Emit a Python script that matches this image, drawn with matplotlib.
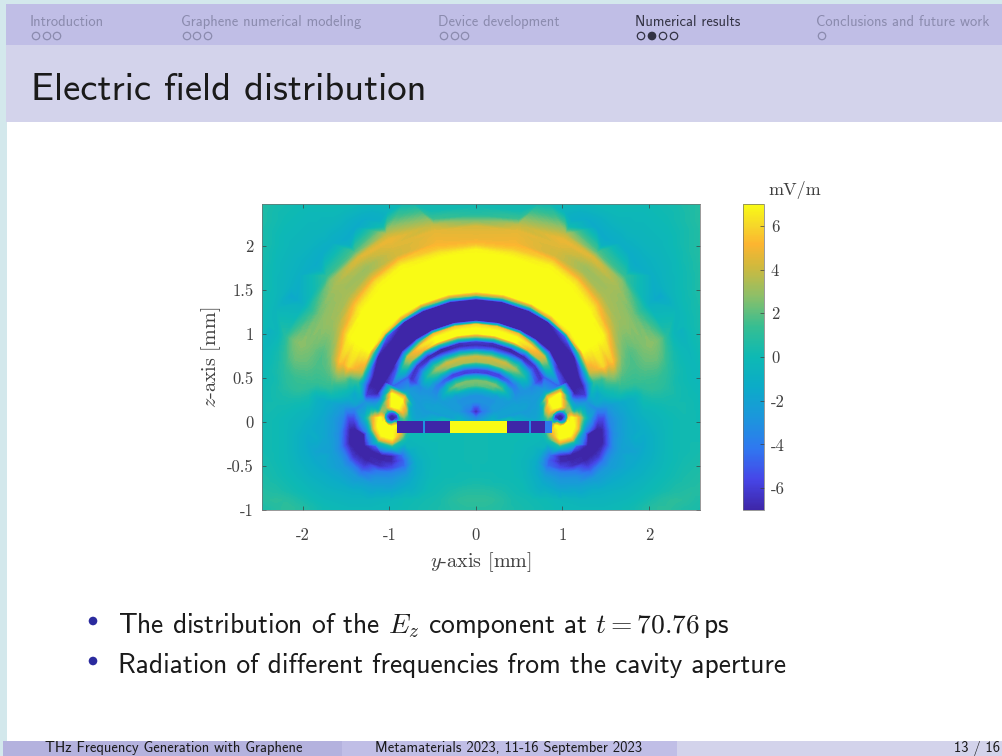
"""Slide "Electric field distribution": Ez map with its beamer frame."""

import matplotlib

matplotlib.use("Agg")

import matplotlib.pyplot as plt
import numpy as np
from matplotlib.cm import ScalarMappable
from matplotlib.colors import LinearSegmentedColormap, Normalize
from matplotlib.patches import Circle, Rectangle

plt.rcParams["mathtext.fontset"] = "cm"
plt.rcParams["font.family"] = ["cmss10", "DejaVu Sans"]
plt.rcParams["axes.unicode_minus"] = False
plt.rcParams["axes.formatter.use_mathtext"] = True

W, H = 1003, 756

# Ez in mV/m, read every 8 px of the picture: one row per line from the top of
# the map, from the outer edge (left) to the middle; the map is nearly symmetric.
field_left = [
    [.8, .6, .5, .3, .2, .1, 0, 0, 0, 0, 0, 0, 0, -.2, -.3, -.4, -.3, -.2, -.1, 0, 0, 0, 0, 0, 0, 0, 0, 0, 0],
    [.8, .6, .4, .2, .1, 0, -.1, -.2, -.2, -.2, -.2, -.3, -.5, -.7, -.9, -1, -.9, -.7, -.4, -.2, 0, 0, .1, .2, .2, .3, .3, .3, .3],
    [.8, .6, .4, .2, 0, -.1, -.2, -.3, -.3, -.4, -.4, -.6, -.9, -1.2, -1.4, -1.5, -1.2, -.6, .2, .8, 1.2, 1.4, 1.5, 1.6, 1.6, 1.6, 1.6, 1.7, 1.7],
    [.7, .5, .3, .1, -.1, -.2, -.3, -.4, -.4, -.5, -.7, -.9, -1.2, -1.5, -1.7, -1.7, -1.2, -.2, 1.8, 3.5, 4.3, 4.8, 4.8, 4.6, 4.5, 4.5, 4.4, 4.3, 4.2],
    [.7, .5, .3, 0, -.2, -.3, -.4, -.5, -.6, -.7, -1, -1.2, -1.6, -1.8, -1.6, -.9, .4, 2.6, 4.2, 4.8, 5, 5, 4.9, 4.8, 4.7, 4.5, 4.4, 4.2, 4.2],
    [.7, .5, .3, 0, -.2, -.4, -.5, -.6, -.8, -1, -1.2, -1.5, -1.8, -1.5, -.6, .8, 2.6, 4, 4.8, 4.9, 4.6, 4.5, 4.6, 4.8, 5, 5.2, 5.4, 5.5, 5.5],
    [.7, .5, .2, -.1, -.3, -.5, -.6, -.8, -1.1, -1.3, -1.5, -1.7, -1.2, -.2, 1.6, 3.2, 4.4, 4.2, 3.8, 3.6, 4, 4.6, 5.2, 6, 6.6, 7, 7, 7, 7],
    [.7, .4, .2, -.2, -.4, -.6, -.8, -1, -1.2, -1.5, -1.6, -1.2, -.1, 1.6, 4, 4.4, 3.4, 3, 3.6, 5.2, 6.6, 7, 7, 7, 7, 7, 7, 7, 7],
    [.6, .4, .1, -.2, -.5, -.7, -.9, -1.2, -1.5, -1.6, -1.1, .2, 2.4, 3.6, 3.6, 3, 3.4, 5, 6.8, 7, 7, 7, 7, 7, 7, 7, 7, 7, 7],
    [.6, .3, .1, -.3, -.5, -.8, -1.1, -1.4, -1.6, -1.3, -.3, 1, 2.8, 3.4, 3, 3, 4.4, 6.4, 7, 7, 7, 7, 7, 7, 7, 7, 7, 7, 7],
    [.6, .3, .1, -.3, -.6, -.9, -1.4, -1.7, -1.4, -.6, .8, 2.6, 3.2, 3.2, 3.4, 5, 6.6, 7, 7, 7, 7, 7, 7, 7, 7, 7, 7, 7, 7],
    [.6, .3, 0, -.3, -.7, -1.1, -1.6, -1.7, -1, .2, 1.8, 2.8, 3.2, 3.5, 5, 6.8, 7, 7, 7, 7, 7, 7, 7, 7, 7, 7, 6.8, 6, 5.5],
    [.5, .2, 0, -.4, -.8, -1.3, -1.7, -1.5, -.6, .9, 2.2, 3, 3.2, 3.6, 5.6, 7, 7, 7, 7, 7, 7, 7, 7, 0, -7, -7, -7, -7, -7],
    [.4, .2, -.1, -.5, -1, -1.5, -1.8, -1.2, 0, 1.4, 2.4, 3, 3.3, 4.6, 7, 7, 7, 7, 7, 7, 7, 0, -7, -7, -7, -7, -7, -7, -7],
    [.4, .1, -.2, -.6, -1.1, -1.6, -1.7, -.9, .5, 1.8, 2.6, 3.2, 4.2, 6, 7, 7, 7, 7, 7, 0, -7, -7, -7, -7, -7, -7, -7, -7, -7],
    [.4, .1, -.2, -.7, -1.2, -1.5, -1.4, -.5, .9, 2, 2.6, 3.3, 4.6, 6.4, 7, 7, 7, 7, -2, -7, -7, -7, -7, -7, -7, -6, -3, 1, 3],
    [.3, 0, -.3, -.7, -.9, -.1, 1.3, 2.3, 2, 1.6, 2, 3.6, 5.4, 7, 7, 7, 7, 1, -7, -7, -7, -7, -7, -6, -2, 5, 7, 7, 7],
    [.2, -.1, -.4, -.6, -.3, .8, 2, 2.6, 2.3, 1.4, 1.6, 3.8, 6.6, 7, 7, 7, 3, -7, -7, -7, -7, -5, 2, 6, 0, -6, -7, -6, -5],
    [.1, -.2, -.4, -.4, .3, 1.6, 2.6, 3, 2.4, 1.4, 1.4, 3.6, 6.8, 7, 7, 2, -7, -7, -7, -7, -2, 3, 5, 0, -5, -6, -5, -4, -3],
    [0, -.2, -.4, -.2, .8, 2, 3, 3.2, 2.4, 1.8, 3.6, 6, 7, 7, 7, -3, -7, -7, -7, -7, 2.5, 3.5, -1, -5, -5, -2, 1, 2.5, 3],
    [-.1, -.3, -.3, 0, 1, 2, 2.8, 2.8, 2.2, 1.6, 4, 6, 7, 7, 4, -7, -7, -7, -7, -6, 1.5, 1, -3, -3, -.5, 1.5, 3, 4, 4],
    [-.2, -.3, -.2, .2, 1, 1.8, 2.2, 2.2, 1.8, 1.6, 2.6, 3.6, 4, 4, 3, -7, -7, -7, -7, -5, -5, -5, -1, 2, -1, -5, -6, -6, -6],
    [-.2, -.2, 0, .2, .8, 1.4, 1.6, 1.6, 1.4, 1, 2, 1.6, 1.2, -1, -6.5, -7, -7, -7, -3, -2.5, -5, -6, -4, -1, 1, 0, 1, 1, 1],
    [-.2, -.1, .1, .3, .7, 1, 1.2, 1, .8, .6, .6, .2, -.3, -1.5, -6.5, -7, -7, -6, 3, -1, -3.5, -4.5, -3, -1.5, 0, 2, 2.5, 2.5, 2.5],
    [-.1, 0, .1, .3, .4, .5, .5, .3, .2, .1, -.1, -.4, -.9, -1.8, -6, -7, -5, 3.5, 7, 4, -2.5, -2.5, -2.5, -3.5, -3, -1.5, -.5, -1, -1.5],
    [-.1, .1, .2, .2, .2, .1, 0, -.1, -.2, -.4, -.8, -1.1, -1.5, -2, -2.5, -2, -1, 3, 7, 5, -2, -2.5, -2.5, -2.5, -3, -3, -3, -3, -3.5],
    [0, .1, .2, .1, 0, -.2, -.4, -.6, -.8, -1, -1.2, -1.7, -2.3, -3, -4, 0, 6, 0, -6, 5, -2, 0, 3, -1, 0, -2, -3, -4, -7],
    [0, .1, .1, 0, -.2, -.4, -.6, -1, -1.3, -1.7, -2, -3.5, -6, -5, -1, 5, 7, 4, -5, -1, -1, 0, 1, -1, 0, -1, -1, -2, -3],
    [.1, .1, .1, 0, -.2, -.5, -.8, -1.2, -1.6, -2.1, -3, -5, -7, -7, -4, 2, 7, 7, 6, 0, 0, 0, 0, 0, 0, 0, 0, 0, 0],
    [.1, .1, .1, 0, -.2, -.6, -1, -1.4, -1.8, -2.3, -3.2, -5.5, -7, -7, -6, -1.5, 5, 7, 6, -.5, -.3, 0, 0, 0, 0, 0, 0, .1, .1],
    [.2, .2, .1, 0, -.2, -.6, -1, -1.5, -2, -2.5, -3.2, -5, -6.5, -7, -7, -6, -3, 1.5, 1.5, -.8, -.5, -.3, -.2, -.1, 0, 0, 0, .1, .1],
    [.3, .2, .1, 0, -.2, -.6, -1, -1.4, -1.9, -2.3, -3, -4, -5.5, -6.5, -7, -7, -6, -4.5, -3, -1.5, -.9, -.5, -.3, -.1, 0, 0, 0, .1, .1],
    [.4, .3, .2, 0, -.2, -.5, -.9, -1.2, -1.6, -2, -2.5, -3.2, -4.2, -5.5, -6.5, -7, -7, -6.5, -5, -2.5, -1.3, -.7, -.4, -.2, 0, 0, 0, .1, .1],
    [.5, .4, .3, .1, -.1, -.4, -.7, -1, -1.3, -1.6, -2, -2.5, -3.2, -4, -4.8, -5.2, -5, -4.4, -3.5, -2.2, -1.3, -.8, -.4, -.2, 0, 0, 0, 0, .1],
    [.6, .5, .4, .2, 0, -.2, -.5, -.8, -1, -1.2, -1.5, -1.9, -2.3, -2.7, -3, -3.2, -3, -2.6, -2.2, -1.5, -1, -.6, -.3, -.1, 0, 0, .1, .1, .1],
    [.7, .6, .5, .4, .2, 0, -.2, -.5, -.7, -.9, -1.1, -1.3, -1.5, -1.7, -1.9, -1.9, -1.8, -1.6, -1.3, -1, -.7, -.4, -.2, 0, .1, .2, .2, .3, .4],
    [.8, .8, .7, .6, .4, .2, 0, -.2, -.4, -.6, -.7, -.8, -.9, -1, -1.1, -1.1, -1, -.9, -.7, -.5, -.3, -.1, 0, .1, .3, .5, .7, .8, .8],
    [.5, .7, .9, 1, .9, .7, .4, .1, -.1, -.3, -.4, -.5, -.6, -.6, -.6, -.6, -.5, -.4, -.3, -.1, 0, .1, .2, .3, .5, .8, 1, 1.1, 1.1],
    [.4, .5, .6, .8, 1, 1, .8, .5, .2, 0, -.1, -.2, -.3, -.3, -.3, -.3, -.2, -.2, -.1, 0, .1, .2, .3, .4, .5, .7, .8, .9, .9],
]

# rings above the strip, read along rays from the middle of the aperture:
# one row per ray angle (degrees from the horizontal), one column per radius (px)
arc_angles = [15, 20, 25, 35, 45, 55, 65, 78, 90]
arc_radii = [24, 30, 36, 40, 44, 48, 52, 56, 60, 64,
             68, 72, 76, 80, 84, 88, 92, 96, 100, 104,
             108, 114, 120, 126, 130, 134, 140, 146]
arc_field = [
    [-2.5, -2.5, -2.5, -2.5, -2.5, -2.5, -2.5, -2.5, -2.5, -2.5,
     -2.5, -2.5, -1, 2, 4, 4, 2, -2, -5, -7, -7, -6, -1, -1.5, -.5, 0, .5, .8],
    [-2, -2, -2, -2, -2, -2, -2, -2.2, -2.5, -3,
     -4, -4.5, -3, -1, 0, -1, -4, -6, -7, -7, -7, -7, -3, 1, 1.2, 1.2, 2.5, 3],
    [-2, -2, -2, -2, -2, -2.2, -2.2, -2.3, -2.5, -3.5,
     -5, -5.5, -4, -2.5, -2, -3, -6.5, -7, -7, -7, -7, -7, -3, 4, 4.5, 5, 6, 5],
    [-2.5, -2.5, -2.5, -2.5, -2.5, -3, -3, -3, -3, -3,
     -3.5, -5, -6, -6.5, -5, -2, -1, -5, -7, -7, -7, -7, -7, 2, 7, 7, 7, 7],
    [-2.5, -2.5, -2.5, -2, -1, -2, -4, -4, -2.5, -.5,
     .5, -1, -4, -6, -6.5, -2, 3.5, 4, -2, -7, -7, -7, -7, -5, 6, 7, 7, 7],
    [-3, -3, -2.5, -.5, 1.5, -.5, -4.5, -5, -2, 1.5,
     3, 1, -2.5, -6.5, -7, -3, 5, 6, 1, -7, -7, -7, -7, -7, 4, 7, 7, 7],
    [-3, -3, -1.5, 1.5, 2.5, 0, -5.5, -6, -2, 3,
     4, 1, -4, -7, -7, 0, 7, 7, 5, -7, -7, -7, -7, -7, 2, 7, 7, 7],
    [-3, -3, -1, 2, 2.5, -.5, -6, -5.8, -1.5, 3.5,
     4, .7, -4.5, -7, -6.5, 1, 7, 7, 5.5, -7, -7, -7, -7, -7, 2.5, 7, 7, 7],
    [-3, -3, -1, 2, 2.5, -1, -6, -5.5, -1, 3.5,
     4, .5, -5, -7, -6, 2, 7, 7, 6, -7, -7, -7, -7, -7, 3, 7, 7, 7],
]

# the same rays further out, through the yellow and orange fronts
arc_outer_radii = [150, 155, 160, 165, 170, 175, 180, 186, 192, 198, 204, 210, 218, 226]
arc_outer_field = [
    [1.2, 1.3, 1.3, 1.3, 1.4, 1.4, 1.4, 1.4, 1.2, .9, .5, .2, -.1, -.3],
    [2.6, 2, 1.8, 1.7, 1.7, 1.9, 2.1, 2.2, 2.2, 1.8, 1, .3, -.2, -.4],
    [5.5, 3.8, 2.5, 2, 1.8, 2, 2.3, 2.6, 2.8, 2.6, 2, .8, -.4, -.8],
    [7, 6.8, 5.5, 4, 3.3, 3, 3, 2.8, 2.3, 1.4, .4, -.8, -1.5, -1.6],
    [7, 7, 7, 6.5, 5.5, 4.2, 3.4, 3.2, 3.2, 3.3, 2.8, 1.2, -.8, -1.4],
    [7, 7, 7, 7, 6.8, 6, 4.5, 3.2, 3, 3.6, 4.4, 2, -.8, -1.5],
    [7, 7, 7, 7, 7, 6.8, 5.8, 4.2, 4.2, 4.5, 4.8, 3.8, .2, -1.2],
    [7, 7, 7, 7, 7, 6.5, 5.5, 5, 4.8, 4.6, 3.8, 1.5, .2, 0],
    [7, 7, 7, 7, 7, 6.8, 5.5, 4.8, 4.6, 4.3, 2.5, .8, .1, 0],
]

# yellow lobes round the aperture edge, read along rays from that edge:
# angles counted from the inner side of the map, going up and round
lobe_angles = [0, 30, 60, 90, 120, 150, 180, 210, 240, 270, 300, 330]
lobe_radii = [3, 6, 9, 12, 16, 20, 24, 28, 32]
lobe_field = [
    [-7, -6, 1, 2, 0, -1.5, -2, -2, -2],
    [-7, -6, 3, 5, 4, -1, -2, -2.3, -2.5],
    [-7, -5, 5, 7, 7, 7, 5, -1, -2.5],
    [-7, -5, 4, 7, 7, 7, 7, 3, -5],
    [-7, -5, 1, 3, 2, -2, -5, -7, -7],
    [-7, -5, 2, 3, -1, -1.5, -2, -2.5, -3],
    [-7, -4, 6, 7, 6, 4, 1, -1.5, -3.5],
    [-7, -3, 7, 7, 7, 5.5, 1, -3.5, -7],
    [-7, 0, 7, 7, 7, 7, 5, 0, -5],
    [-7, 2, 7, 7, 7, 7, 5, .5, -3],
    [-7, 3, 7, 6, 5, 3, .5, -.5, -.5],
    [-7, -4, 0, 0, 0, 0, 0, 0, -.2],
]

# dark crescents under the lobes, along rays from the same edge
crescent_angles = [165, 180, 195, 210, 225, 240, 255, 270, 285, 300]
crescent_radii = [38, 44, 50, 56, 62, 70, 78]
crescent_field = [
    [-3.5, -3, -2.5, -2, -1.6, -1.2, -.8],
    [-5.5, -5.5, -3.5, -2.8, -2.2, -1.6, -1.2],
    [-7, -7, -5, -3.2, -2.5, -1.8, -1.3],
    [-7, -7, -7, -5, -3.2, -2.2, -1.6],
    [-7, -7, -7, -6, -4, -2.5, -1.8],
    [-7, -7, -7, -6, -4.5, -2.5, -1.8],
    [-7, -7, -6.5, -4, -3, -2.2, -1.5],
    [-7, -6.8, -5.5, -3.5, -2.8, -2, -1.4],
    [-4.5, -5, -4.5, -3, -2, -1.3, -.8],
    [-1.2, -1.3, -1.2, -1, -.8, -.4, 0],
]

# the cavity strip along y (mm) and the field on it
strip_edges = [-0.913, -0.61, -0.59, -0.30, 0.358, 0.61, 0.635, 0.80, 0.88]
strip_values = [-7, -3, -7, 7, -7, -3.5, -7, -4]

y_ticks = [-2, -1, 0, 1, 2]
z_ticks = [-1, -0.5, 0, 0.5, 1, 1.5, 2]
z_labels = ["-1", "-0.5", "0", "0.5", "1", "1.5", "2"]
cbar_ticks = [-6, -4, -2, 0, 2, 4, 6]

parula = ["#3E26A8", "#4646E8", "#2F78F0", "#1C96DC", "#0CABC8", "#0DB9B4",
          "#36BE92", "#8DBF68", "#D2B93C", "#FCB530", "#F6D62A", "#F9FB15"]
parula_pos = [0, .1, .2, .3, .4, .5, .6, .7, .8, .87, .93, 1]

nav_names = ["Introduction", "Graphene numerical modeling", "Device development",
             "Numerical results", "Conclusions and future work"]
nav_x = [30, 181, 438, 635, 816]
nav_dots = [[36, 47, 57], [187, 197, 208], [444, 455, 465],
            [641, 652, 663, 674], [822]]

BAND_DARK = "#B4B2DE"
BAND_MID = "#C0BEE6"
BAND_LIGHT = "#D3D3EB"
EDGE = "#D3E8EC"
GREY_NAV = "#8B8BAE"
AX_TEXT = "#404040"

PX_Y, PX_Z = 86.5, 88
CENTRE_X, CENTRE_Z = 476, 422
ARC_CENTRE = (476, 425)
LOBE_CENTRE = (392, 418)
LOBE_REACH = 34
# levels kept off the round values of the tables: a level equal to a flat value
# leaves a stray line in the filled contours
LEVELS = np.linspace(-7.05, 7.05, 114)


def px_axes(fig, x0, y0, x1, y1, **kwargs):
    """Axes placed from picture pixels, y counted from the top."""
    return fig.add_axes(
        [x0 / W, 1 - y1 / H, (x1 - x0) / W, (y1 - y0) / H], **kwargs
    )


def draw_frame(fig):
    """Beamer bands, navigation, title, bullets and footer."""
    ax = fig.add_axes([0, 0, 1, 1], zorder=0)
    ax.set_xlim(0, W)
    ax.set_ylim(H, 0)
    ax.axis("off")

    ax.add_patch(Rectangle((0, 0), W, H, color=EDGE, lw=0))
    ax.add_patch(Rectangle((7, 122), W, 619, color="white", lw=0))
    ax.add_patch(Rectangle((6, 4), W, 41, color=BAND_MID, lw=0))
    ax.add_patch(Rectangle((6, 45), W, 77, color=BAND_LIGHT, lw=0))
    ax.add_patch(Rectangle((3, 741), 339, 15, color=BAND_DARK, lw=0))
    ax.add_patch(Rectangle((342, 741), 335, 15, color=BAND_MID, lw=0))
    ax.add_patch(Rectangle((677, 741), 326, 15, color=BAND_LIGHT, lw=0))

    for i, name in enumerate(nav_names):
        active = name == "Numerical results"
        color = "#333344" if active else GREY_NAV
        ax.text(nav_x[i], 22, name, fontsize=10.5, color=color, va="center",
                fontweight="bold" if active else "normal")
        for j, x in enumerate(nav_dots[i]):
            filled = active and j == 1
            ax.add_patch(Circle((x, 36), 3.7, lw=0.9, edgecolor=color,
                                facecolor=color if filled else "none"))

    ax.text(31, 90, "Electric field distribution", fontsize=27.8, color="#1A1A1A",
            va="center")

    for y, line in [(625, r"The distribution of the $E_z$ component at $t = 70.76\,$ps"),
                    (665, "Radiation of different frequencies from the cavity aperture")]:
        ax.add_patch(Circle((93, y - 4), 4.3, color="#2B2B9E", lw=0))
        ax.text(118, y, line, fontsize=19.8, color="#1A1A1A", va="center")

    ax.text(45, 748, "THz Frequency Generation with Graphene", fontsize=10.5,
            color="#1A1A1A", va="center")
    ax.text(375, 748, "Metamaterials 2023, 11-16 September 2023", fontsize=10.5,
            color="#1A1A1A", va="center")
    ax.text(1000, 748, "13 / 16", fontsize=10.5, color="#1A1A1A", va="center", ha="right")


def ray_points(centre, angles, radii):
    """Picture pixels of a table read along rays, angle 0 pointing left, 90 up."""
    theta, radius = np.meshgrid(np.radians(angles), radii, indexing="ij")
    return centre[0] - radius * np.cos(theta), centre[1] - radius * np.sin(theta)


def lobe_offsets(px, py):
    """Offsets in px from the nearer aperture edge, x counted towards the middle."""
    return 476 - np.abs(px - 476) - LOBE_CENTRE[0], LOBE_CENTRE[1] - py


def collect_field():
    """Gather the tables in one point cloud, keeping the finest one per place."""
    left = np.array(field_left, dtype=float)
    grid = np.hstack([left, left[:, -2::-1]])
    grid = np.vstack([grid, grid[-1:]])
    half = left.shape[1] - 1
    gx, gy = np.meshgrid(476 + 8 * np.arange(-half, half + 1), 204 + 8 * np.arange(grid.shape[0]))

    radius = np.hypot(gx - ARC_CENTRE[0], gy - ARC_CENTRE[1])
    angle = np.degrees(np.arctan2(ARC_CENTRE[1] - gy, np.abs(gx - ARC_CENTRE[0])))
    in_arcs = (radius >= 20) & (radius <= 230) & (angle >= 13)
    ox, oz = lobe_offsets(gx, gy)
    in_lobe = np.hypot(ox, oz) <= LOBE_REACH + 3
    sweep = np.degrees(np.arctan2(oz, ox)) % 360
    in_crescent = (np.hypot(ox, oz) <= 82) & (sweep >= 160) & (sweep <= 305)
    keep = ~in_arcs & ~in_lobe & ~in_crescent

    arc_full = [*arc_angles, *[180 - a for a in arc_angles[-2::-1]]]
    arc_rows = np.hstack([np.array(arc_field, dtype=float), np.array(arc_outer_field, dtype=float)])
    arc_table = np.vstack([arc_rows, arc_rows[-2::-1]])
    ax_, ay_ = ray_points(ARC_CENTRE, arc_full, arc_radii + arc_outer_radii)
    aox, aoz = lobe_offsets(ax_, ay_)
    arc_keep = np.hypot(aox, aoz) > LOBE_REACH

    # lobe and crescent angles start on the inner side, hence 180 - angle
    lx, ly = ray_points(LOBE_CENTRE, 180 - np.array(lobe_angles), lobe_radii)
    lobe_table = np.array(lobe_field, dtype=float)
    cx, cy = ray_points(LOBE_CENTRE, 180 - np.array(crescent_angles), crescent_radii)
    crescent_table = np.array(crescent_field, dtype=float)

    xs = [gx[keep], ax_[arc_keep], lx, 2 * 476 - lx, cx, 2 * 476 - cx]
    ys = [gy[keep], ay_[arc_keep], ly, ly, cy, cy]
    vs = [grid[keep], arc_table[arc_keep], lobe_table, lobe_table, crescent_table, crescent_table]
    return (np.concatenate([a.ravel() for a in xs]),
            np.concatenate([a.ravel() for a in ys]),
            np.concatenate([a.ravel() for a in vs]))


def main():
    fig = plt.figure(figsize=(W / 100, H / 100), dpi=100)
    draw_frame(fig)

    cmap = LinearSegmentedColormap.from_list("parula", list(zip(parula_pos, parula)), N=256)
    norm = Normalize(-7, 7)

    # 86.5 px/mm along y and 88 px/mm along z
    ax = px_axes(fig, 262, 204, 700, 510, zorder=2)
    px, py, values = collect_field()
    filled = ax.tricontourf((px - CENTRE_X) / PX_Y, (CENTRE_Z - py) / PX_Z, values,
                            levels=LEVELS, cmap=cmap, norm=norm, extend="both", zorder=1)
    filled.set_edgecolor("face")
    filled.set_linewidth(0.3)
    ax.pcolormesh(strip_edges, [-0.125, 0.01], np.array([strip_values], dtype=float),
                  cmap=cmap, norm=norm, zorder=1.6)
    ax.set_xlim((262 - CENTRE_X) / PX_Y, (700 - CENTRE_X) / PX_Y)
    ax.set_ylim(-1, (CENTRE_Z - 204) / PX_Z)

    ax.set_xticks(y_ticks)
    ax.set_xticklabels([str(v) for v in y_ticks])
    ax.set_yticks(z_ticks)
    ax.set_yticklabels(z_labels)
    ax.tick_params(direction="in", length=3, width=0.5, color="#404040",
                   labelcolor=AX_TEXT, labelsize=12, top=True, right=True)
    ax.tick_params(axis="x", pad=13)
    ax.tick_params(axis="y", pad=6)
    for label in ax.get_xticklabels() + ax.get_yticklabels():
        label.set_family("cmr10")
    for spine in ax.spines.values():
        spine.set_linewidth(0.5)
        spine.set_color("#707070")
    ax.set_xlabel(r"$y$-axis [mm]", family="cmr10", fontsize=14.5, color=AX_TEXT, labelpad=5)
    ax.set_ylabel(r"$z$-axis [mm]", family="cmr10", fontsize=14.5, color=AX_TEXT, labelpad=3)

    cax = px_axes(fig, 743, 204, 764, 510, zorder=2)
    cbar = fig.colorbar(ScalarMappable(norm=norm, cmap=cmap), cax=cax, ticks=cbar_ticks)
    cbar.ax.set_yticklabels([str(v) for v in cbar_ticks])
    cbar.ax.tick_params(direction="in", length=3, width=0.5, color="#404040",
                        labelcolor=AX_TEXT, labelsize=12, pad=5)
    for label in cbar.ax.get_yticklabels():
        label.set_family("cmr10")
    cbar.outline.set_linewidth(0.5)
    cbar.outline.set_edgecolor("#707070")
    fig.text(795 / W, 1 - 190 / H, "mV/m", family="cmr10", fontsize=13,
             color=AX_TEXT, ha="center", va="center", zorder=3)

    fig.savefig("out.png", dpi=100)
    plt.close(fig)


if __name__ == "__main__":
    main()
